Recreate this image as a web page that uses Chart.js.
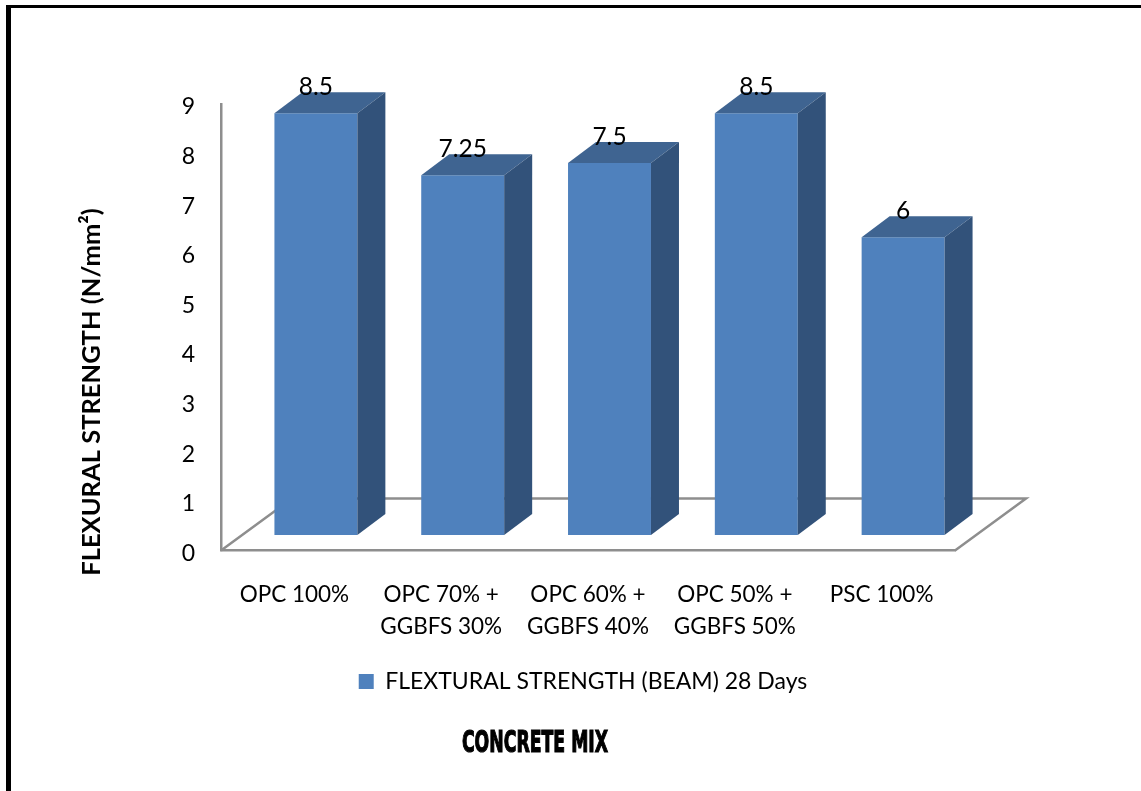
<!DOCTYPE html>
<html>
<head>
<meta charset="utf-8">
<style>
  html, body { margin: 0; padding: 0; background: #fff; overflow: hidden; }
  #wrap { position: relative; width: 1141px; height: 791px; }
</style>
<script src="https://cdn.jsdelivr.net/npm/chart.js@4"></script>
</head>
<body>
<div id="wrap"><canvas id="chart"></canvas></div>
<script>
const categories = ["OPC 100%", ["OPC 70% +", "GGBFS 30%"], ["OPC 60% +", "GGBFS 40%"], ["OPC 50% +", "GGBFS 50%"], "PSC 100%"];
const strength = [8.5, 7.25, 7.5, 8.5, 6];
const yTicks = [0, 1, 2, 3, 4, 5, 6, 7, 8, 9];
const seriesName = "FLEXTURAL STRENGTH (BEAM) 28 Days";
const yTitle = "FLEXURAL STRENGTH (N/mm²)";
const xTitle = "CONCRETE MIX";

const font = "Lato, Carlito, sans-serif";
const gray = "#8e8e8e";

// the picture is a fake 3d column chart: bars sit forward on a floor
const barShift = { x: 21.5, y: -15.5 };
const barDepth = { x: 28, y: -21 };
const floorDepth = { x: 71, y: -52 };

const fake3d = {
  id: "fake3d",
  afterLayout(chart) {
    chart.legend.left -= 5;
    chart.legend.right -= 5;
  },
  beforeDraw(chart) {
    const ctx = chart.ctx;
    ctx.save();
    ctx.fillStyle = "#000";
    ctx.fillRect(6, 5, 1135, 3);
    ctx.fillRect(6, 5, 5, 786);
    ctx.restore();
  },
  beforeDatasetsDraw(chart) {
    const { ctx, chartArea: a } = chart;
    ctx.save();
    ctx.strokeStyle = gray;
    ctx.lineWidth = 2.5;
    ctx.beginPath();
    ctx.moveTo(a.left, a.bottom);
    ctx.lineTo(a.left + floorDepth.x, a.bottom + floorDepth.y);
    ctx.lineTo(a.right + floorDepth.x, a.bottom + floorDepth.y);
    ctx.lineTo(a.right, a.bottom);
    ctx.stroke();
    ctx.restore();
  },
  beforeDatasetDraw(chart) {
    chart.ctx.save();
    chart.ctx.translate(barShift.x, barShift.y);
  },
  afterDatasetDraw(chart) {
    chart.ctx.restore();
  },
  afterDatasetsDraw(chart) {
    const ctx = chart.ctx;
    const bars = chart.getDatasetMeta(0).data;
    ctx.save();
    ctx.translate(barShift.x, barShift.y);
    bars.forEach(bar => {
      const l = bar.x - bar.width / 2;
      const r = bar.x + bar.width / 2;
      // top face
      ctx.fillStyle = "#3f6491";
      ctx.beginPath();
      ctx.moveTo(l, bar.y);
      ctx.lineTo(l + barDepth.x, bar.y + barDepth.y);
      ctx.lineTo(r + barDepth.x, bar.y + barDepth.y);
      ctx.lineTo(r, bar.y);
      ctx.closePath();
      ctx.fill();
      // side face
      ctx.fillStyle = "#32527a";
      ctx.beginPath();
      ctx.moveTo(r, bar.y);
      ctx.lineTo(r + barDepth.x, bar.y + barDepth.y);
      ctx.lineTo(r + barDepth.x, bar.base + barDepth.y);
      ctx.lineTo(r, bar.base);
      ctx.closePath();
      ctx.fill();
    });
    // value labels
    ctx.fillStyle = "#000";
    ctx.font = "24.5px " + font;
    ctx.textAlign = "center";
    ctx.textBaseline = "middle";
    bars.forEach((bar, i) => {
      ctx.fillText(String(strength[i]), bar.x, bar.y - 26);
    });
    ctx.restore();
  },
  afterDraw(chart) {
    const ctx = chart.ctx;
    ctx.save();
    ctx.fillStyle = "#000";
    ctx.textAlign = "center";
    ctx.textBaseline = "middle";
    // y title
    ctx.save();
    ctx.translate(92, 392);
    ctx.rotate(-Math.PI / 2);
    ctx.font = "bold 25.5px " + font;
    ctx.fillText(yTitle, 0, 0);
    ctx.restore();
    // x title, squeezed to look like the condensed face in the picture
    ctx.save();
    ctx.translate(535, 744.5);
    ctx.scale(0.64, 1);
    ctx.font = "bold 30px 'Liberation Sans Narrow', 'DejaVu Sans Condensed', sans-serif";
    ctx.strokeStyle = "#000";
    ctx.lineWidth = 1.2;
    ctx.strokeText(xTitle, 0, 0);
    ctx.fillText(xTitle, 0, 0);
    ctx.restore();
    ctx.restore();
  }
};

new Chart(document.getElementById("chart"), {
  type: "bar",
  data: {
    labels: categories,
    datasets: [{
      label: seriesName,
      data: strength,
      backgroundColor: "#4f81bd",
      borderWidth: 0,
      barPercentage: 0.565,
      categoryPercentage: 1
    }]
  },
  plugins: [fake3d],
  options: {
    responsive: true,
    maintainAspectRatio: false,
    animation: false,
    layout: { padding: { left: 78, right: 186, top: 104, bottom: 88 } },
    scales: {
      x: {
        grid: { display: false },
        border: { display: true, color: gray, width: 2.5 },
        ticks: {
          color: "#000",
          maxRotation: 0,
          autoSkip: false,
          padding: 20,
          font: { family: font, size: 22.5, lineHeight: 1.42 }
        },
        afterFit: s => { s.height = 109.5; }
      },
      y: {
        min: 0,
        max: 9,
        grid: { display: false },
        border: { display: true, color: gray, width: 2.5 },
        afterBuildTicks: s => { s.ticks = yTicks.map(v => ({ value: v })); },
        ticks: {
          color: "#000",
          padding: 18,
          labelOffset: 3,
          font: { family: font, size: 23 }
        },
        afterFit: s => { s.width = 143; }
      }
    },
    plugins: {
      legend: {
        position: "bottom",
        fullSize: false,
        labels: {
          color: "#000",
          boxWidth: 15,
          boxHeight: 15,
          font: { family: font, size: 23 }
        }
      },
      tooltip: { enabled: false }
    }
  }
});
</script>
</body>
</html>
